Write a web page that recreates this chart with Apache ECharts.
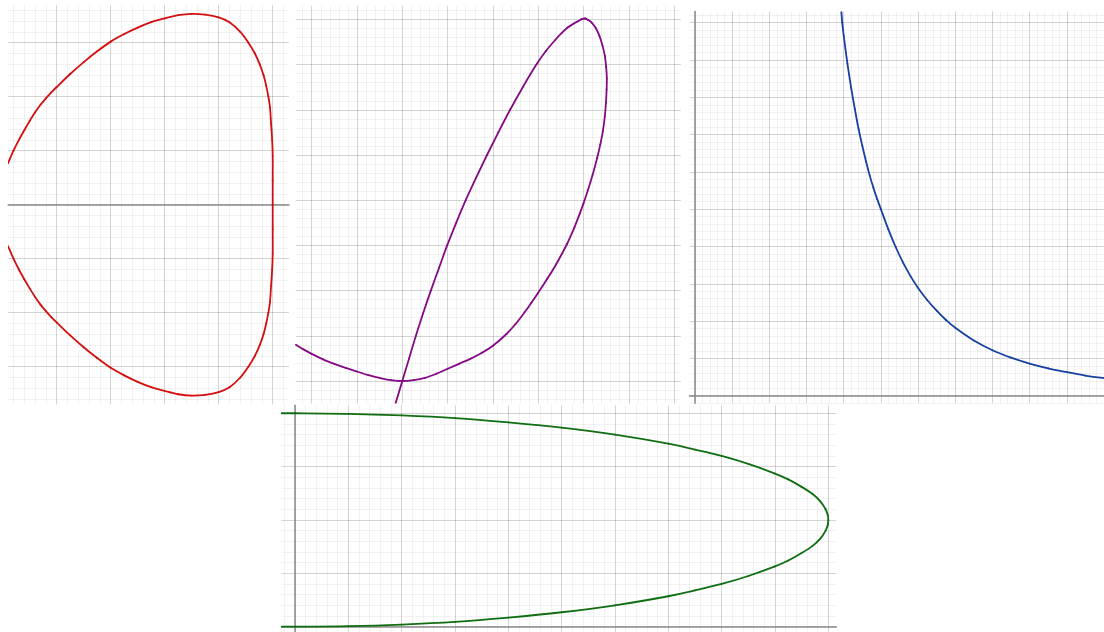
<!DOCTYPE html>
<html>
<head>
<meta charset="utf-8">
<title>Four curves on graph paper</title>
<script src="https://cdn.jsdelivr.net/npm/echarts@6/dist/echarts.min.js"></script>
<style>
  html, body { margin: 0; padding: 0; background: #fff; }
  #main { width: 1104px; height: 632px; }
</style>
</head>
<body>
<div id="main"></div>
<script>
// curve points, [x, y] in grid units
const redCurve = [
  [0.1, 0.77], [0.2, 1.0], [0.3, 1.2], [0.4, 1.38], [0.5, 1.55],
  [0.6, 1.71], [0.7, 1.85], [0.8, 1.97], [0.9, 2.08], [1.0, 2.18], [1.25, 2.42],
  [1.5, 2.64], [1.75, 2.84], [2.0, 3.02], [2.25, 3.16], [2.5, 3.28], [2.75, 3.38],
  [3.0, 3.45], [3.25, 3.51], [3.5, 3.535], [3.75, 3.52], [4.0, 3.47], [4.2, 3.38],
  [4.4, 3.2], [4.55, 3.0], [4.67, 2.8], [4.76, 2.6], [4.83, 2.4], [4.88, 2.2],
  [4.92, 2.0], [4.95, 1.8], [4.97, 1.5], [4.99, 1.2], [5.0, 0.9], [5.0, 0.45], [5.0, 0],
  [5.0, -0.45], [5.0, -0.9], [4.99, -1.2], [4.97, -1.5], [4.95, -1.8], [4.92, -2.0],
  [4.88, -2.2], [4.83, -2.4], [4.76, -2.6], [4.67, -2.8], [4.55, -3.0], [4.4, -3.2],
  [4.2, -3.38], [4.0, -3.47], [3.75, -3.52], [3.5, -3.535], [3.25, -3.51], [3.0, -3.45],
  [2.75, -3.38], [2.5, -3.28], [2.25, -3.16], [2.0, -3.02], [1.75, -2.84], [1.5, -2.64],
  [1.25, -2.42], [1.0, -2.18], [0.9, -2.08], [0.8, -1.97], [0.7, -1.85], [0.6, -1.71],
  [0.5, -1.55], [0.4, -1.38], [0.3, -1.2], [0.2, -1.0], [0.1, -0.77]
];

const purpleCurve = [
  [-2.35, 0.8], [-2.2, 0.71], [-2.0, 0.6], [-1.75, 0.48], [-1.5, 0.38],
  [-1.25, 0.29], [-1.0, 0.21], [-0.75, 0.13], [-0.5, 0.07], [-0.25, 0.02], [0, 0],
  [0.25, 0.02], [0.5, 0.07], [0.75, 0.16], [1.0, 0.27], [1.25, 0.38], [1.5, 0.49],
  [1.75, 0.62], [2.0, 0.78], [2.3, 1.04], [2.5, 1.26], [2.7, 1.52], [2.85, 1.73],
  [3.0, 1.95], [3.2, 2.26], [3.4, 2.59], [3.63, 3.02], [3.8, 3.4], [3.92, 3.71],
  [4.0, 3.93], [4.1, 4.23], [4.2, 4.56], [4.3, 4.93], [4.37, 5.23], [4.43, 5.54],
  [4.47, 5.85], [4.495, 6.15], [4.51, 6.45], [4.515, 6.7], [4.5, 6.95], [4.47, 7.2],
  [4.42, 7.42], [4.35, 7.64], [4.27, 7.81], [4.18, 7.93], [4.1, 7.99], [4.03, 8.02],
  [3.95, 8.0], [3.88, 7.96], [3.79, 7.91], [3.65, 7.82], [3.52, 7.7], [3.38, 7.55],
  [3.17, 7.3], [2.96, 7.0], [2.66, 6.5], [2.38, 6.0], [2.12, 5.5], [1.87, 5.0],
  [1.63, 4.5], [1.4, 4.0], [1.19, 3.5], [0.99, 3.0], [0.81, 2.5], [0.63, 2.0],
  [0.46, 1.5], [0.3, 1.0], [0.15, 0.5], [0, 0], [-0.15, -0.5]
];

const blueCurve = [
  [3.935, 10.3], [3.96, 10.0], [4.0, 9.65], [4.1, 8.9], [4.2, 8.25], [4.3, 7.68],
  [4.4, 7.15], [4.5, 6.7], [4.6, 6.28], [4.7, 5.9], [4.8, 5.57], [4.9, 5.27],
  [5.0, 5.0], [5.2, 4.46], [5.4, 3.98], [5.6, 3.56], [5.8, 3.2], [6.0, 2.89],
  [6.25, 2.56], [6.5, 2.28], [6.75, 2.03], [7.0, 1.82], [7.5, 1.48], [8.0, 1.22],
  [8.5, 1.02], [9.0, 0.86], [9.5, 0.73], [10.0, 0.63], [10.5, 0.54], [11.0, 0.47]
];

const greenCurve = [
  [-0.25, 4.0], [0, 4.0], [1, 3.99], [2, 3.96], [3, 3.91], [4, 3.83], [5, 3.73],
  [6, 3.6], [7, 3.43], [7.5, 3.32], [8, 3.2], [8.5, 3.05], [9, 2.87], [9.25, 2.76],
  [9.5, 2.62], [9.7, 2.49], [9.85, 2.35], [9.95, 2.2], [9.99, 2.09], [10, 2.0],
  [9.99, 1.91], [9.95, 1.8], [9.85, 1.65], [9.7, 1.51], [9.5, 1.38], [9.25, 1.24],
  [9, 1.13], [8.5, 0.95], [8, 0.8], [7.5, 0.68], [7, 0.57], [6, 0.4], [5, 0.27],
  [4, 0.17], [3, 0.09], [2, 0.04], [1, 0.01], [0, 0], [-0.25, 0]
];

// panel layout: pixel origin + pixels per unit, visible range, which axis lines show
const panels = [
  { data: redCurve, color: '#d40f0f', ox: 2.7, sx: 54, oy: 204.7, sy: 54,
    xr: [0.1, 5.3], yr: [-3.7, 3.7], xLine: true, yLine: false },
  { data: purpleCurve, color: '#850a85', ox: 402.3, sx: 45.3, oy: 381, sy: 45.2,
    xr: [-2.35, 6.15], yr: [-0.5, 8.3], xLine: false, yLine: false },
  { data: blueCurve, color: '#1740a3', ox: 695, sx: 37.23, oy: 395.7, sy: 37.3,
    xr: [-0.15, 11.0], yr: [-0.2, 10.3], xLine: true, yLine: true },
  { data: greenCurve, color: '#0f6e12', ox: 295, sx: 53.33, oy: 627.7, sy: 53.6,
    xr: [-0.25, 10.15], yr: [-0.1, 4.15], xLine: true, yLine: true }
];

const STEP = 0.05;           // split line step; every 4th = minor, every 20th = major
const MAJOR = 'rgba(0,0,0,0.17)';
const MINOR = 'rgba(0,0,0,0.05)';
const AXIS = '#8a8a8a';

function lineColors(min) {
  const k = Math.round(min / STEP);
  const out = [];
  for (let i = 0; i < 20; i++) {
    const n = (((k + i) % 20) + 20) % 20;
    out.push(n === 0 ? MAJOR : (n % 4 === 0 ? MINOR : 'rgba(0,0,0,0)'));
  }
  return out;
}

function axis(range, showLine, idx) {
  return {
    type: 'value', gridIndex: idx,
    min: range[0], max: range[1], interval: STEP,
    axisLine: { show: showLine, onZero: true, lineStyle: { color: AXIS, width: 1.5 } },
    axisTick: { show: false },
    axisLabel: { show: false },
    splitLine: { show: true, lineStyle: { color: lineColors(range[0]), width: 1 } }
  };
}

// one bezier piece per data point, tangents taken from the neighbours
function curveRenderer(pts, color) {
  return function (params, api) {
    const k = params.dataIndex;
    if (k >= pts.length - 1) return null;
    const at = j => api.coord(pts[Math.max(0, Math.min(pts.length - 1, j))]);
    const p0 = at(k - 1), p1 = at(k), p2 = at(k + 1), p3 = at(k + 2);
    return {
      type: 'bezierCurve',
      shape: {
        x1: p1[0], y1: p1[1], x2: p2[0], y2: p2[1],
        cpx1: p1[0] + (p2[0] - p0[0]) / 6, cpy1: p1[1] + (p2[1] - p0[1]) / 6,
        cpx2: p2[0] - (p3[0] - p1[0]) / 6, cpy2: p2[1] - (p3[1] - p1[1]) / 6
      },
      style: { stroke: color, lineWidth: 1.8, fill: null, lineCap: 'round' },
      silent: true
    };
  };
}

const grids = [], xAxes = [], yAxes = [], series = [];
panels.forEach((p, i) => {
  grids.push({
    left: p.ox + p.sx * p.xr[0],
    width: p.sx * (p.xr[1] - p.xr[0]),
    top: p.oy - p.sy * p.yr[1],
    height: p.sy * (p.yr[1] - p.yr[0])
  });
  xAxes.push(axis(p.xr, p.xLine, i));
  yAxes.push(axis(p.yr, p.yLine, i));
  series.push({
    type: 'custom', xAxisIndex: i, yAxisIndex: i,
    data: p.data, clip: true, z: 5,
    encode: { x: 0, y: 1 },
    renderItem: curveRenderer(p.data, p.color)
  });
});

const chart = echarts.init(document.getElementById('main'));
chart.setOption({
  animation: false,
  backgroundColor: '#fff',
  grid: grids,
  xAxis: xAxes,
  yAxis: yAxes,
  series: series
});
</script>
</body>
</html>
